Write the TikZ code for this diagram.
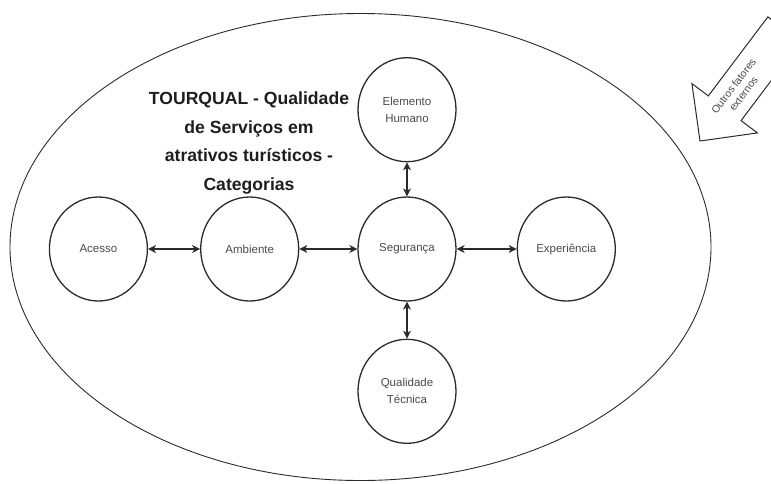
\documentclass[tikz,border=0pt]{standalone}
\usepackage{fontspec}
\setmainfont{Liberation Sans}
\usetikzlibrary{arrows.meta,positioning,shapes.geometric}
\definecolor{line-color}{HTML}{2B2B2B}
\definecolor{label-color}{HTML}{4A4A4A}
\definecolor{title-color}{HTML}{1E1E1E}
\tikzset{
  frame/.style={draw=line-color, ellipse, line width=0.9pt, inner sep=0pt,
    minimum width=701pt, minimum height=467pt},
  category/.style={draw=line-color, ellipse, line width=1.3pt, inner sep=0pt,
    minimum width=98pt, minimum height=104pt, align=center, text=label-color,
    font=\fontsize{11.5}{17}\selectfont},
  heading/.style={align=center, text=title-color,
    font=\bfseries\fontsize{17.6}{28.7}\selectfont},
  external/.style={draw=line-color, line width=1pt, line join=miter},
  external text/.style={align=center, text=label-color, inner sep=0pt,
    font=\fontsize{10.5}{12.5}\selectfont},
  link/.style={{Stealth[length=8pt,width=8pt,inset=2.5pt]}-{Stealth[length=8pt,width=8pt,inset=2.5pt]},
    line width=1.5pt, draw=line-color}
}
\begin{document}
\begin{tikzpicture}[x=1pt,y=-1pt]
  \useasboundingbox (0,0) rectangle (771,483);
  \node[frame] (tourqual) at (360.5,247) {};
  % categorias
  \node[category] (seguranca) at (407,249) {Segurança};
  \node[category, left=58pt of seguranca] (ambiente) {Ambiente};
  \node[category, left=52pt of ambiente] (acesso) {Acesso};
  \node[category, right=60pt of seguranca] (experiencia) {Experiência};
  \node[category, above=34pt of seguranca] (humano) {Elemento\\Humano};
  \node[category, below=37pt of seguranca] (tecnica) {Qualidade\\Técnica};
  \node[heading] (titulo) at (249,143)
    {TOURQUAL - Qualidade\\de Serviços em\\atrativos turísticos -\\Categorias};
  % seta de fatores externos
  \coordinate (ponta) at (700,141);
  \draw[external, shift={(ponta)}, rotate=53] (0pt,0pt) -- (41pt,41pt)
    -- (41pt,20.5pt) -- (140pt,20.5pt) -- (140pt,-20.5pt) -- (41pt,-20.5pt)
    -- (41pt,-41pt) -- cycle;
  \path[shift={(ponta)}, rotate=53] (64pt,0pt)
    node[external text, transform shape] (fatores) {Outros fatores\\externos};
  % ligações
  \draw[link] (acesso) -- (ambiente);
  \draw[link] (ambiente) -- (seguranca);
  \draw[link] (seguranca) -- (experiencia);
  \draw[link] (humano) -- (seguranca);
  \draw[link] (seguranca) -- (tecnica);
\end{tikzpicture}
\end{document}
